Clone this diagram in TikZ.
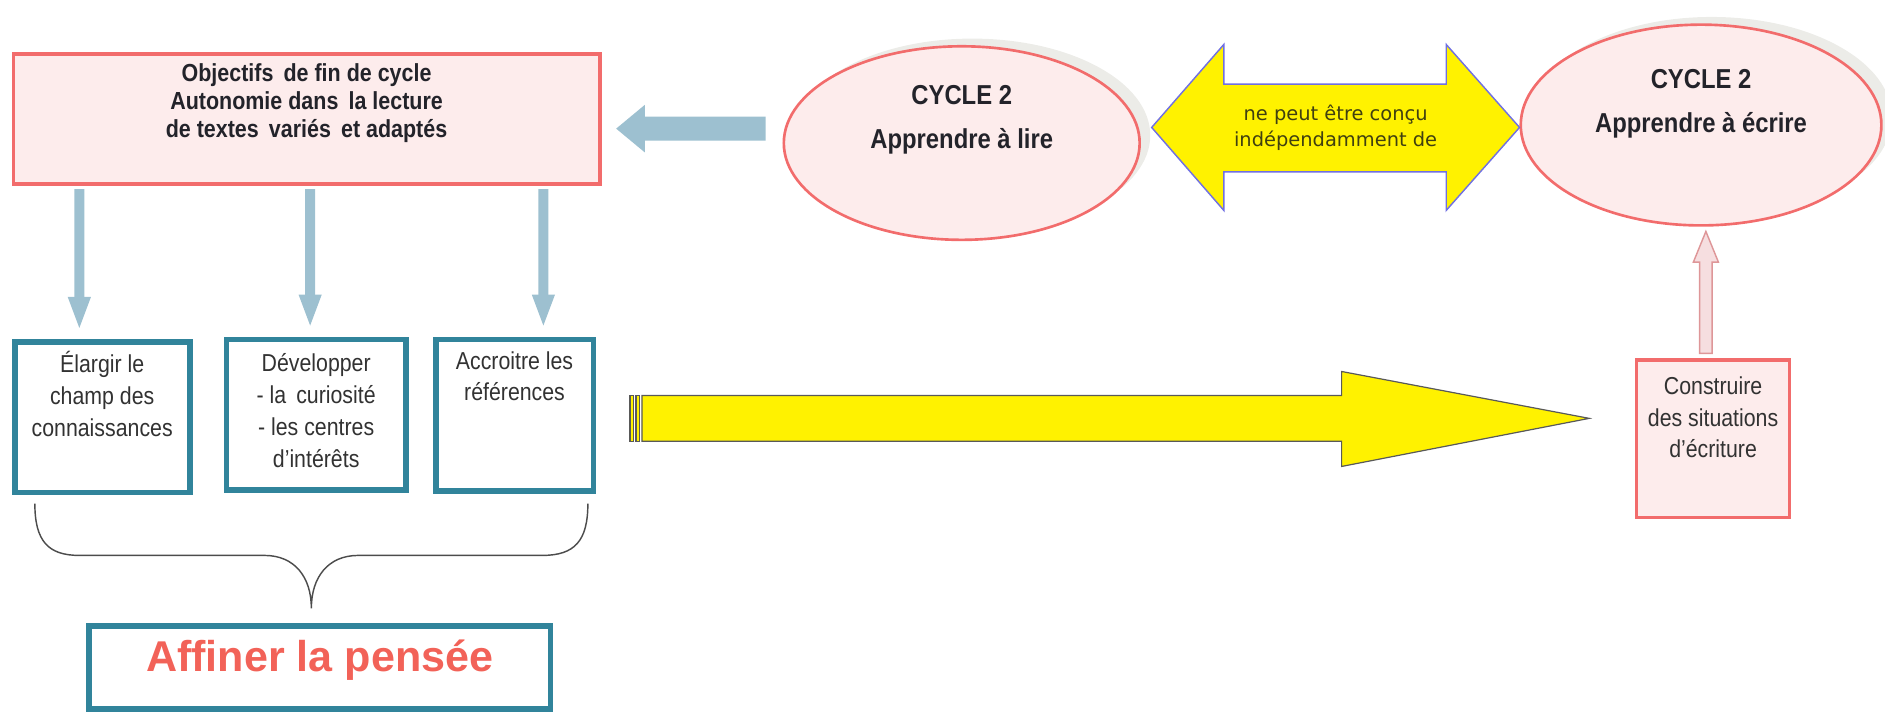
\documentclass[tikz,border=0pt]{standalone}
\usepackage{fontspec}
\setmainfont{Liberation Sans}[FakeStretch=0.87]
\newfontfamily\bigfont{Liberation Sans}
\newfontfamily\dvfont{DejaVu Sans}
\usetikzlibrary{arrows.meta,shapes.geometric,shadows}
\definecolor{rosefill}{RGB}{253,236,236}
\definecolor{roseline}{RGB}{242,108,108}
\definecolor{steelarrow}{RGB}{157,192,208}
\definecolor{tealline}{RGB}{49,132,155}
\definecolor{salmontext}{RGB}{242,98,88}
\definecolor{linkblue}{RGB}{112,112,226}
\definecolor{olivetext}{RGB}{64,64,16}
\definecolor{darktext}{RGB}{35,35,42}
\definecolor{greytext}{RGB}{50,50,50}
\definecolor{upfill}{RGB}{246,222,224}
\definecolor{upline}{RGB}{222,150,152}
\definecolor{shadowgray}{RGB}{236,236,232}

\begin{document}
\begin{tikzpicture}[x=0.25mm,y=-0.25mm,
    pinkbox/.style={draw=roseline,fill=rosefill,line width=0.7mm},
    tealbox/.style={draw=tealline,line width=1.2mm},
    oval/.style={ellipse,draw=roseline,fill=rosefill,line width=0.55mm,
        drop shadow={shadow xshift=2.2mm,shadow yshift=1.6mm,fill=shadowgray,opacity=1}},
    headtxt/.style={align=center,inner sep=0pt,text=darktext,font=\bfseries\fontsize{14.6}{16.6}\selectfont},
    ovaltxt/.style={align=center,inner sep=0pt,text=darktext,font=\bfseries\fontsize{16.2}{26.3}\selectfont},
    boxtxt/.style={align=center,inner sep=0pt,anchor=north,text=greytext,font=\fontsize{14.5}{18.8}\selectfont},
    downarr/.style={draw=steelarrow,line width=2.1mm,-{Triangle[length=7mm,width=4.2mm]},shorten <=0.75mm,shorten >=1.75mm}]
    \useasboundingbox (0,0) rectangle (1568,594);

    % haut gauche
    \node[pinkbox,minimum width=122mm,minimum height=27mm] (objectifs) at (255,99) {};
    \node[headtxt] (objectifsTxt) at ([yshift=3.25mm]objectifs.center) {Objectifs\, de fin de cycle\\Autonomie dans\, la lecture\\de textes\, variés\, et adaptés};

    % les deux cycles
    \node[oval,minimum width=74mm,minimum height=40.25mm] (lire) at (800,119) {};
    \node[ovaltxt] (lireTxt) at ([yshift=4.8mm]lire.center) {CYCLE 2\\Apprendre à lire};
    \node[oval,minimum width=75mm,minimum height=41.75mm] (ecrire) at (1415,104) {};
    \node[ovaltxt] (ecrireTxt) at ([yshift=4.4mm]ecrire.center) {CYCLE 2\\Apprendre à écrire};

    \draw[draw=linkblue,fill=yellow,line width=0.3mm] (958,106) -- (1018,37) -- (1018,70) -- (1203,70) -- (1203,37) -- (1264,106)
        -- (1203,175) -- (1203,143) -- (1018,143) -- (1018,175) -- cycle;
    \node[align=center,inner sep=0pt,text=olivetext,font=\dvfont\fontsize{11.5}{15.6}\selectfont] (lien) at (1111,106.5) {ne peut être conçu\\indépendamment de};

    \draw[steelarrow,line width=5mm,-{Triangle[length=6mm,width=9.5mm]},shorten <=3.5mm,shorten >=3mm] ([yshift=3mm]lire.west) -- ([yshift=-2mm]objectifs.east);

    % les trois cases
    \node[tealbox,minimum width=36.4mm,minimum height=31.3mm] (elargir) at (85,347) {};
    \node[tealbox,minimum width=37.3mm,minimum height=31.3mm] (developper) at (263,345) {};
    \node[tealbox,minimum width=32.8mm,minimum height=31.55mm] (accroitre) at (428,345.5) {};
    \node[boxtxt] (elargirTxt) at ([yshift=-2.5mm]elargir.north) {Élargir le\\champ des\\connaissances};
    \node[boxtxt] (developperTxt) at ([yshift=-3.5mm]developper.north) {Développer\\- la\, curiosité\\- les centres\\d'intérêts};
    \node[boxtxt] (accroitreTxt) at ([yshift=-3mm]accroitre.north) {Accroitre les\\références};

    \draw[downarr] ([xshift=-47.25mm]objectifs.south) -- ([xshift=-4.75mm]elargir.north);
    \draw[downarr] ([xshift=0.75mm]objectifs.south) -- ([xshift=-1.25mm]developper.north);
    \draw[downarr] ([xshift=49.25mm]objectifs.south) -- ([xshift=6mm]accroitre.north);

    % accolade
    \draw[black!70,line width=0.3mm] (29,419) .. controls (29,450) and (40,462) .. (66,462) -- (220,462)
        .. controls (245,462) and (259,480) .. (259,506) .. controls (259,480) and (273,462) .. (298,462)
        -- (451,462) .. controls (478,462) and (489,450) .. (489,419);
    \node[tealbox,minimum width=96mm,minimum height=17.3mm] (affiner) at (266,555) {};
    \node[inner sep=0pt,text=salmontext,font=\bigfont\bfseries\fontsize{25.5}{30}\selectfont] (affinerTxt) at ([yshift=1.4mm]affiner.center) {Affiner la pensée};

    % grande fleche jaune
    \draw[black!65,fill=yellow,line width=0.25mm] (524,329) rectangle (527,367);
    \draw[black!65,fill=yellow,line width=0.25mm] (529,329) rectangle (532,367);
    \draw[black!65,fill=yellow,line width=0.25mm] (534,329) -- (1116,329) -- (1116,309) -- (1322,348) -- (1116,388) -- (1116,367) -- (534,367) -- cycle;

    % ecriture
    \node[pinkbox,minimum width=31.8mm,minimum height=32.8mm] (construire) at (1425,365) {};
    \node[boxtxt] (construireTxt) at ([yshift=-3.75mm]construire.north) {Construire\\des situations\\d'écriture};
    \draw[upline,fill=upfill,line width=0.3mm] (1413.75,294) -- (1413.75,218) -- (1408.6,218) -- (1419,192.5) -- (1429.4,218)
        -- (1424.25,218) -- (1424.25,294) -- cycle;
\end{tikzpicture}
\end{document}
